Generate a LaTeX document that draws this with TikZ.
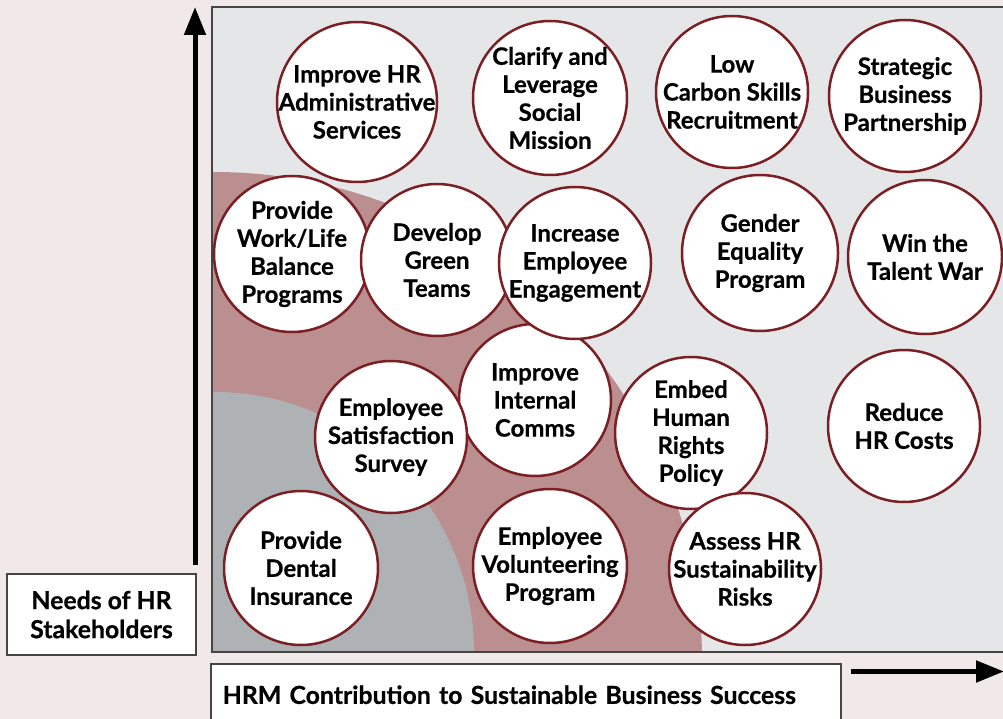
\documentclass[tikz,border=0pt]{standalone}
\usepackage{fontspec}
\setmainfont{Lato}[BoldFeatures={FakeBold=0.6}]
\usetikzlibrary{arrows.meta}

\definecolor{bgpink}{HTML}{F1E8E9}
\definecolor{panelgray}{HTML}{E5E6E8}
\definecolor{zonered}{HTML}{BB8E8F}
\definecolor{zonegray}{HTML}{AFB2B4}
\definecolor{ringred}{HTML}{7B1F24}
\definecolor{framegray}{HTML}{454545}

\tikzset{
  goal/.style={circle,draw=ringred,line width=2.5pt,fill=white,minimum size=152pt,inner sep=0pt,
    label={[goaltext]center:#1}},
  goaltext/.style={align=center,inner sep=0pt,font=\bfseries\fontsize{24}{28}\selectfont},
  axisbox/.style={draw=framegray,line width=1.5pt,fill=white,font=\bfseries\fontsize{24.8}{29}\selectfont},
  axis/.style={line width=5pt,-{Triangle[length=28pt,width=21pt]}}
}

\begin{document}
\begin{tikzpicture}[x=1pt,y=-1pt]
\fill[bgpink] (0,0) rectangle (1003,719);
\useasboundingbox (0,0) rectangle (1003,719);

% panel with the two zones
\begin{scope}
\clip (212,7) rectangle (1010,652);
\fill[panelgray] (212,7) rectangle (1010,652);
\fill[zonered] (214,660) circle[radius=488pt];
\fill[zonegray] (214,652) circle[radius=260pt];
\end{scope}
\draw[framegray,line width=2pt] (212,7) rectangle (1010,652);

% first row
\node[goal={Improve HR\\Administrative\\Services},minimum size=160pt] (adminsvc) at (357,102) {};
\node[goal={Clarify and\\Leverage\\Social\\Mission},minimum size=154pt] (socialmission) at (550,98) {};
\node[goal={Low\\Carbon Skills\\Recruitment}] (lowcarbon) at (732,92) {};
\node[goal={Strategic\\Business\\Partnership}] (partnership) at (905,96) {};

% second row
\node[goal={Provide\\Work/Life\\Balance\\Programs},minimum size=156pt] (worklife) at (292,254) {};
\node[goal={Develop\\Green\\Teams}] (greenteams) at (437,260) {};
\node[goal={Improve\\Internal\\Comms}] (comms) at (535,400) {};
\node[goal={Increase\\Employee\\Engagement}] (engagement) at (575,263) {};
\node[goal={Gender\\Equality\\Program},minimum size=156pt] (gender) at (760,253) {};
\node[goal={Win the\\Talent War},minimum size=154pt] (talent) at (925,257) {};

% lower rows
\node[goal={Employee\\Satisfaction\\Survey}] (satisfaction) at (391,437) {};
\node[goal={Embed\\Human\\Rights\\Policy}] (humanrights) at (691,433) {};
\node[goal={Reduce\\HR Costs}] (hrcosts) at (904,426) {};
\node[goal={Provide\\Dental\\Insurance},minimum size=154pt] (dental) at (301,568) {};
\node[goal={Employee\\Volunteering\\Program},minimum size=154pt] (volunteering) at (550,566) {};
\node[goal={Assess HR\\Sustainability\\Risks}] (sustrisks) at (745,569) {};

% axes
\coordinate (yfoot) at (195,565);
\coordinate (ytip) at (195,7);
\coordinate (xfoot) at (851,671.5);
\coordinate (xtip) at (1004,671.5);
\draw[axis] (yfoot) -- (ytip);
\draw[axis] (xfoot) -- (xtip);

\node[axisbox,align=center,minimum width=189pt,minimum height=81pt,inner sep=0pt] (needs) at (101.5,614.5) {Needs of HR\\Stakeholders};
\node[axisbox,anchor=north west,minimum height=62pt,text width=606pt,inner xsep=12pt,align=left] (contribution) at (210,663) {HRM Contribution to Sustainable Business Success};
\end{tikzpicture}
\end{document}
